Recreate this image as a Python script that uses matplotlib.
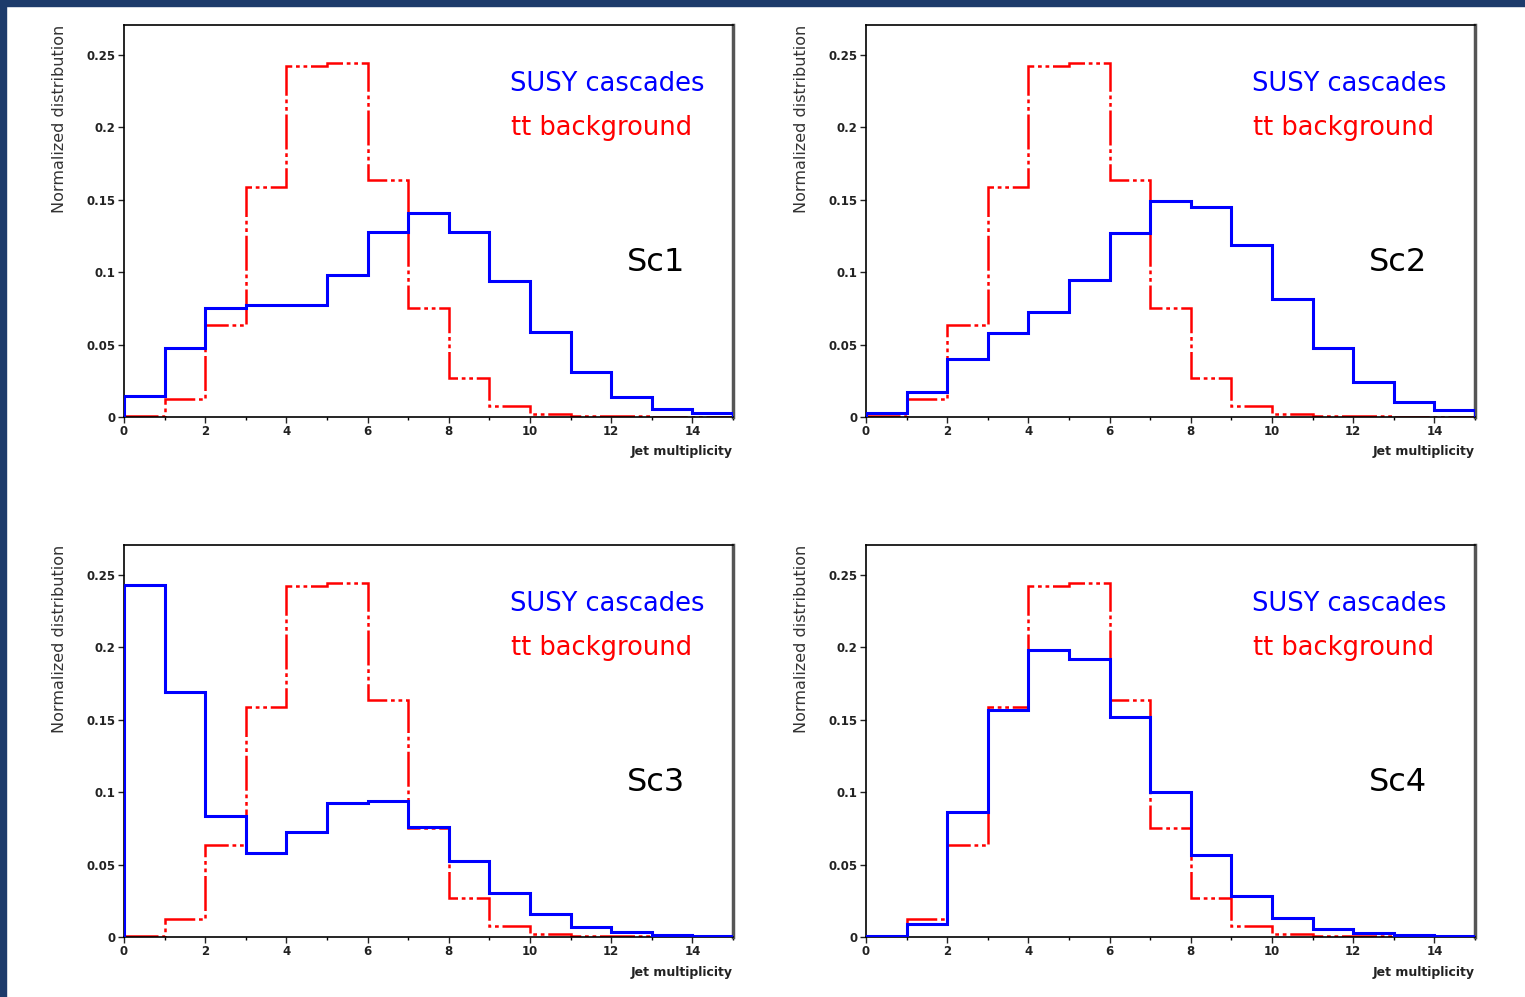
import numpy as np
import matplotlib
matplotlib.use("Agg")
import matplotlib.pyplot as plt
from matplotlib.patches import Rectangle

# Jet multiplicity bins 0..15
edges = np.arange(0, 16)

# tt background (same in every panel)
tt_bkg = [0.001, 0.0124, 0.0635, 0.159, 0.2424, 0.2445, 0.1637, 0.0753,
          0.027, 0.0076, 0.002, 0.0008, 0.0004, 0.0003, 0.0003]

# SUSY cascades, one per scenario
susy_sc1 = [0.0145, 0.0477, 0.0753, 0.0773, 0.0773, 0.098, 0.128, 0.141,
            0.128, 0.094, 0.059, 0.031, 0.0138, 0.0055, 0.0028]
susy_sc2 = [0.003, 0.017, 0.040, 0.058, 0.0725, 0.0946, 0.127, 0.149,
            0.145, 0.119, 0.0815, 0.0477, 0.024, 0.0104, 0.0048]
susy_sc3 = [0.243, 0.169, 0.0836, 0.058, 0.0725, 0.0925, 0.094, 0.076,
            0.0525, 0.0304, 0.0159, 0.0069, 0.0035, 0.0014, 0.0007]
susy_sc4 = [0.0007, 0.009, 0.086, 0.157, 0.198, 0.192, 0.152, 0.100,
            0.0566, 0.0283, 0.0131, 0.0055, 0.0028, 0.0014, 0.0007]

scenarios = ["Sc1", "Sc2", "Sc3", "Sc4"]
susy = [susy_sc1, susy_sc2, susy_sc3, susy_sc4]

yticks = [0, 0.05, 0.1, 0.15, 0.2, 0.25]
ytick_labels = ["0", "0.05", "0.1", "0.15", "0.2", "0.25"]
xticks = [0, 2, 4, 6, 8, 10, 12, 14]

W, H = 1525, 997
fig = plt.figure(figsize=(W / 100, H / 100), dpi=100)
fig.patch.set_facecolor("white")

# slide border: dark blue strip on left and top
stripe = "#1d3b6b"
fig.patches.append(Rectangle((0, 0), 6 / W, 1, transform=fig.transFigure,
                             color=stripe, zorder=0))
fig.patches.append(Rectangle((0, 1 - 6 / H), 1, 6 / H, transform=fig.transFigure,
                             color=stripe, zorder=0))

# panel geometry in pixels: (left, bottom-of-axis y pixel)
panels = [(124, 417), (866, 417), (124, 937), (866, 937)]
ax_w, ax_h = 609, 392

for i, (px, py) in enumerate(panels):
    ax = fig.add_axes([px / W, (H - py) / H, ax_w / W, ax_h / H])
    ax.stairs(tt_bkg, edges, color="red", lw=1.8,
              linestyle=(0, (14, 1.5, 1.5, 1.5, 1.5, 1.5)), zorder=2)
    ax.stairs(susy[i], edges, color="blue", lw=2.2, zorder=3)

    ax.set_xlim(0, 15)
    ax.set_ylim(0, 0.2707)
    ax.set_xticks(xticks)
    ax.set_xticks(np.arange(0, 16), minor=True)
    ax.set_yticks(yticks)
    ax.set_yticklabels(ytick_labels)
    ax.tick_params(axis="both", which="major", direction="out", length=4,
                   width=1, labelsize=8.5, pad=2, colors="#222")
    ax.tick_params(axis="x", which="minor", direction="out", length=2, width=1)
    for lab in ax.get_xticklabels() + ax.get_yticklabels():
        lab.set_fontweight("bold")

    for side in ["left", "top", "bottom"]:
        ax.spines[side].set_color("black")
        ax.spines[side].set_linewidth(1.2)
    ax.spines["right"].set_color("#555555")
    ax.spines["right"].set_linewidth(2.5)

    ax.text(0.634, 0.849, "SUSY cascades", color="blue", fontsize=18.5,
            transform=ax.transAxes, va="center", ha="left")
    ax.text(0.635, 0.737, "tt background", color="red", fontsize=18.5,
            transform=ax.transAxes, va="center", ha="left")
    ax.text(0.826, 0.395, scenarios[i], color="black", fontsize=23,
            transform=ax.transAxes, va="center", ha="left")

    # axis titles placed like the ROOT canvas
    fig.text((px - 64) / W, (H - (py - ax_h)) / H, "Normalized distribution",
             rotation=90, ha="center", va="top", fontsize=11.5, color="#333")
    fig.text((px + ax_w) / W, (H - (py + 35)) / H, "Jet multiplicity",
             ha="right", va="center", fontsize=9, fontweight="bold", color="#222")

fig.savefig("out.png", dpi=100, facecolor=fig.get_facecolor())
